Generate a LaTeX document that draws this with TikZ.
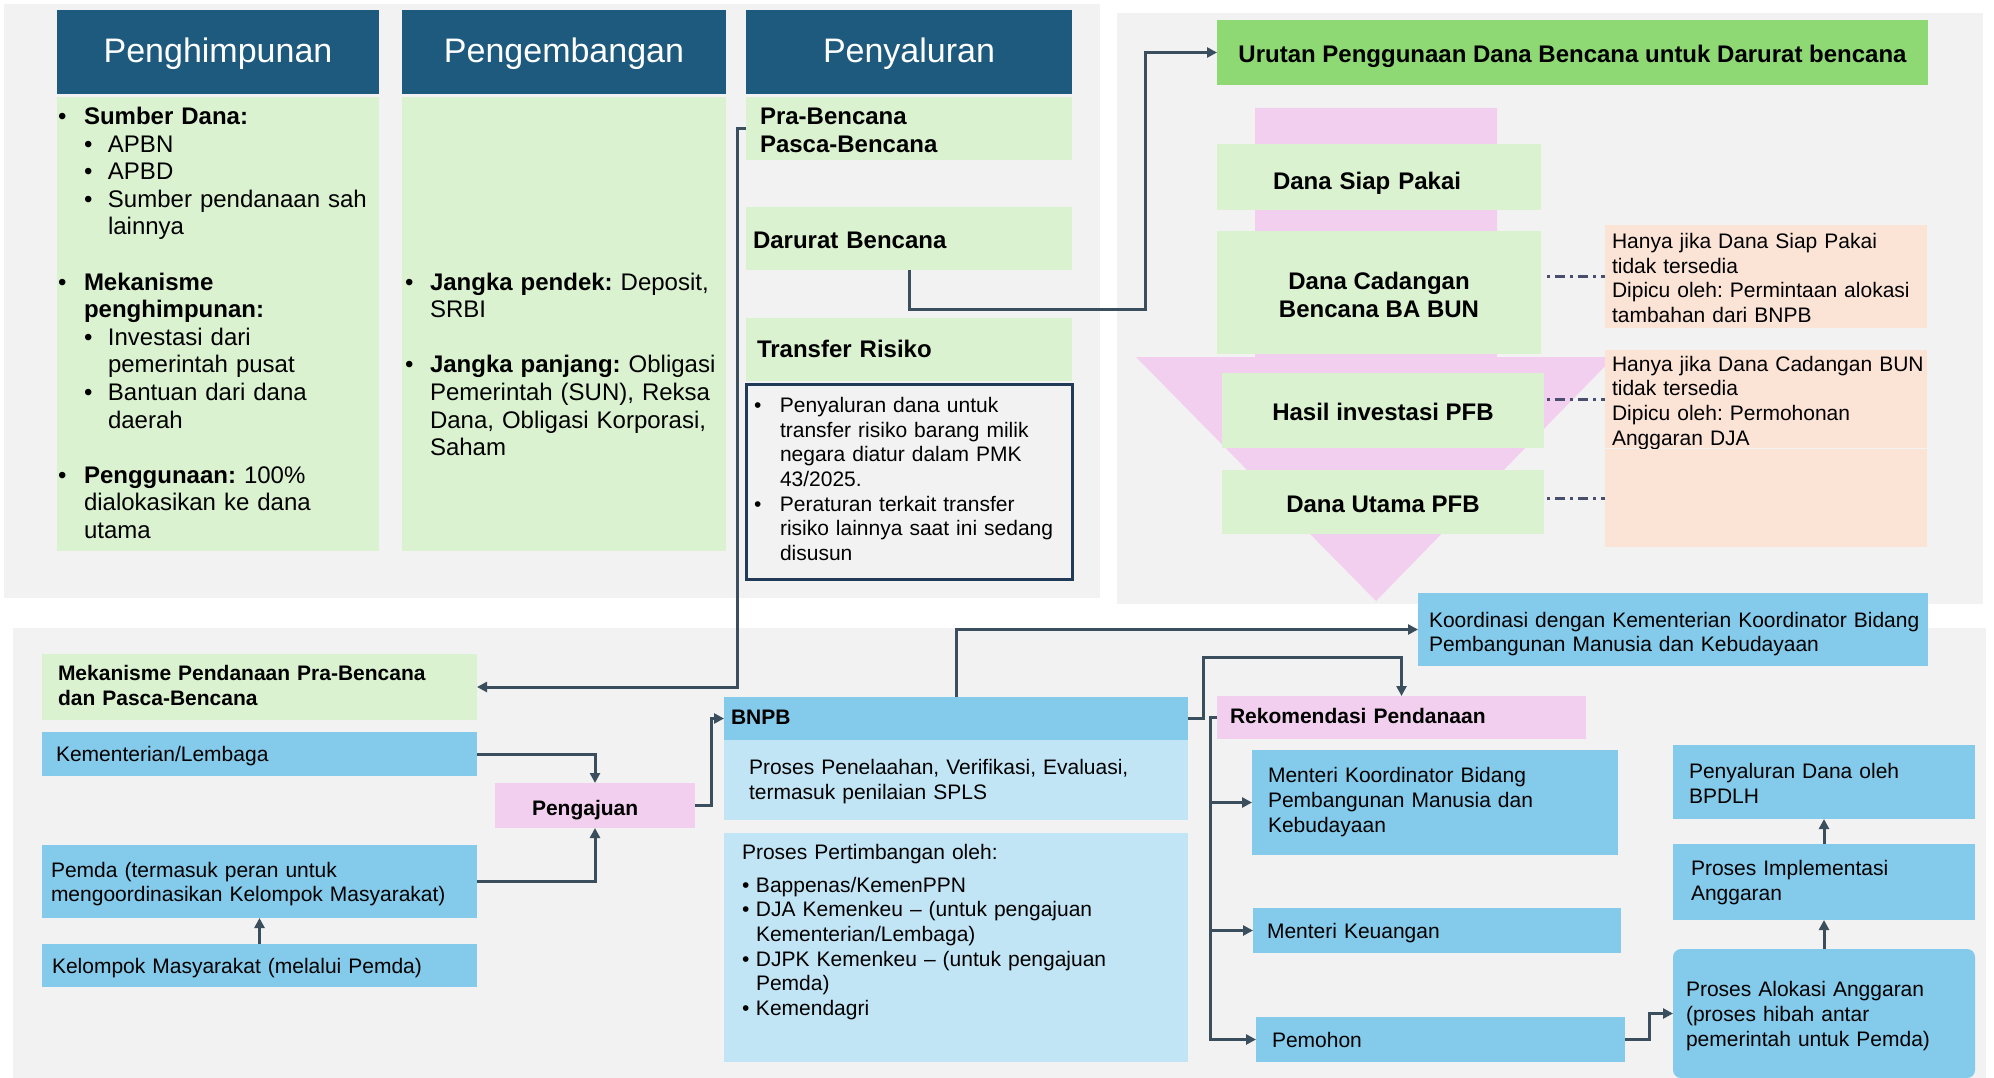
\documentclass[tikz,border=0pt]{standalone}
\usepackage{fontspec}
\setmainfont{Liberation Sans}
\usetikzlibrary{arrows.meta,calc}
\frenchspacing

\definecolor{hdrblue}{RGB}{30,90,126}
\definecolor{palegreen}{RGB}{218,242,208}
\definecolor{brightgreen}{RGB}{142,217,115}
\definecolor{pinkfill}{RGB}{242,207,238}
\definecolor{peach}{RGB}{251,227,214}
\definecolor{midblue}{RGB}{131,202,235}
\definecolor{paleblue}{RGB}{193,229,245}
\definecolor{panelgray}{RGB}{242,242,242}
\definecolor{linkgray}{RGB}{58,78,94}
\definecolor{dashgray}{RGB}{72,78,108}
\definecolor{navyline}{RGB}{32,58,88}

% lines of text, lowered a little inside their box
\newcommand{\rows}[2][5pt]{\raisebox{-#1}[\height][\depth]{\begin{tabular}{@{}l@{}}#2\end{tabular}}}
\newcommand{\crows}[2][5pt]{\raisebox{-#1}[\height][\depth]{\begin{tabular}{@{}c@{}}#2\end{tabular}}}
\newcommand{\bul}[1]{\makebox[#1][l]{\textbullet}}

\tikzset{
	cell/.style={anchor=north west, inner sep=0pt, outer sep=0pt},
	hdr/.style={cell, fill=hdrblue, text=white, font=\fontsize{34}{40}\selectfont},
	greenbox/.style={cell, fill=palegreen},
	bluebox/.style={cell, fill=midblue},
	ftop/.style={font=\fontsize{24}{27.6}\selectfont},
	ftopb/.style={font=\fontsize{24}{28}\selectfont\bfseries},
	fbot/.style={font=\fontsize{21}{24.6}\selectfont},
	fbotb/.style={font=\fontsize{21}{24.6}\selectfont\bfseries},
	arrowlink/.style={draw=linkgray, line width=3pt, -{Triangle[length=10pt,width=10pt]}},
	dashlink/.style={draw=dashgray, line width=3pt, dash pattern=on 3pt off 5pt on 10pt off 5pt}
}

\begin{document}
\begin{tikzpicture}[x=1pt, y=-1pt]
			%%%%% START %%%%%
			\useasboundingbox (0,0) rectangle (1994,1078);
			\fill[white] (0,0) rectangle (1994,1078);
			
			\fill[panelgray] (4,4) rectangle (1100,598);
			\fill[panelgray] (1117,13) rectangle (1983,604);
			\fill[panelgray] (13,628) rectangle (1986,1078);
			
			% three columns
			\node[hdr, minimum width=322pt, minimum height=84pt] (hpun) at (57,10) {\rows[3pt]{Penghimpunan}};
			\node[hdr, minimum width=324pt, minimum height=84pt] (hbang) at (402,10) {\rows[3pt]{Pengembangan}};
			\node[hdr, minimum width=326pt, minimum height=84pt] (hsalur) at (746,10) {\rows[3pt]{Penyaluran}};
			
			\node[greenbox, ftop, minimum height=454pt, text width=320pt, inner xsep=1pt, align=left] (bpun) at (57,97) {\rows[2pt]{
				\bul{26pt}\textbf{Sumber Dana:}\\
				\hspace*{26pt}\bul{24pt}APBN\\
				\hspace*{26pt}\bul{24pt}APBD\\
				\hspace*{26pt}\bul{24pt}Sumber pendanaan sah\\
				\hspace*{50pt}lainnya\\[27.6pt]
				\bul{26pt}\textbf{Mekanisme}\\
				\hspace*{26pt}\textbf{penghimpunan:}\\
				\hspace*{26pt}\bul{24pt}Investasi dari\\
				\hspace*{50pt}pemerintah pusat\\
				\hspace*{26pt}\bul{24pt}Bantuan dari dana\\
				\hspace*{50pt}daerah\\[27.6pt]
				\bul{26pt}\textbf{Penggunaan:} 100\%\\
				\hspace*{26pt}dialokasikan ke dana\\
				\hspace*{26pt}utama}};
			
			\node[greenbox, ftop, minimum height=454pt, text width=318pt, inner xsep=3pt, align=left] (bbang) at (402,97) {\rows[3pt]{
				\mbox{}\\[53pt]
				\bul{25pt}\textbf{Jangka pendek:} Deposit,\\
				\hspace*{25pt}SRBI\\[27.6pt]
				\bul{25pt}\textbf{Jangka panjang:} Obligasi\\
				\hspace*{25pt}Pemerintah (SUN), Reksa\\
				\hspace*{25pt}Dana, Obligasi Korporasi,\\
				\hspace*{25pt}Saham}};
			
			\node[greenbox, ftopb, minimum height=63pt, text width=298pt, inner xsep=14pt, align=left] (pra) at (746,97) {\rows[4pt]{Pra-Bencana\\Pasca-Bencana}};
			\node[greenbox, ftopb, minimum height=63pt, text width=312pt, inner xsep=7pt, align=left] (darurat) at (746,207) {\rows[4pt]{Darurat Bencana}};
			\node[greenbox, ftopb, minimum height=63pt, text width=304pt, inner xsep=11pt, align=left] (transfer) at (746,318) {\rows[2pt]{Transfer Risiko}};
			\node[cell, fill=panelgray, draw=navyline, line width=3pt, fbot, minimum height=195pt, text width=310pt, inner xsep=8pt, align=left] (trisk) at (746,384) {\rows[0pt]{
				\bul{26pt}Penyaluran dana untuk\\
				\hspace*{26pt}transfer risiko barang milik\\
				\hspace*{26pt}negara diatur dalam PMK\\
				\hspace*{26pt}43/2025.\\
				\bul{26pt}Peraturan terkait transfer\\
				\hspace*{26pt}risiko lainnya saat ini sedang\\
				\hspace*{26pt}disusun}};
			
			% funnel
			\node[cell, fill=brightgreen, ftopb, minimum width=711pt, minimum height=65pt] (urutan) at (1217,20) {\rows[4pt]{Urutan Penggunaan Dana Bencana untuk Darurat bencana}};
			\fill[pinkfill] (1255,108) -- (1497,108) -- (1497,357) -- (1614,357) -- (1376,601) -- (1136,357) -- (1255,357) -- cycle;
			\node[greenbox, ftopb, minimum height=66pt, text width=212pt, inner xsep=56pt, align=left] (dsp) at (1217,144) {\rows[7pt]{Dana Siap Pakai}};
			\node[greenbox, ftopb, minimum width=324pt, minimum height=123pt] (dcad) at (1217,231) {\crows[5pt]{Dana Cadangan\\Bencana BA BUN}};
			\node[greenbox, ftopb, minimum width=322pt, minimum height=75pt] (hasil) at (1222,373) {\rows[4pt]{Hasil investasi PFB}};
			\node[greenbox, ftopb, minimum width=322pt, minimum height=64pt] (dutama) at (1222,470) {\rows[5pt]{Dana Utama PFB}};
			
			\node[cell, fill=peach, fbot, minimum height=103pt, text width=308pt, inner xsep=7pt, align=left] (note1) at (1605,225) {\rows[4pt]{Hanya jika Dana Siap Pakai\\tidak tersedia\\Dipicu oleh: Permintaan alokasi\\tambahan dari BNPB}};
			\node[cell, fill=peach, fbot, minimum height=98pt, text width=308pt, inner xsep=7pt, align=left] (note2) at (1605,350) {\rows[4pt]{Hanya jika Dana Cadangan BUN\\tidak tersedia\\Dipicu oleh: Permohonan\\Anggaran DJA}};
			\node[cell, fill=peach, minimum width=322pt, minimum height=98pt] (note3) at (1605,449) {};
			
			\draw[dashlink] ($(dcad.east |- note1.west)+(6,0)$) -- (note1.west);
			\draw[dashlink] ($(hasil.east |- note2.west)+(3,0)$) -- (note2.west);
			\draw[dashlink] ($(dutama.east |- note3.west)+(3,0)$) -- (note3.west);
			
			% bottom flow
			\node[greenbox, fbotb, minimum height=66pt, text width=403pt, inner xsep=16pt, align=left] (mek) at (42,654) {\rows[1pt]{Mekanisme Pendanaan Pra-Bencana\\dan Pasca-Bencana}};
			\node[bluebox, fbot, minimum height=44pt, text width=407pt, inner xsep=14pt, align=left] (kl) at (42,732) {\rows[3pt]{Kementerian/Lembaga}};
			\node[bluebox, fbot, minimum height=73pt, text width=417pt, inner xsep=9pt, align=left] (pemda) at (42,845) {\rows[3pt]{Pemda (termasuk peran untuk\\mengoordinasikan Kelompok Masyarakat)}};
			\node[bluebox, fbot, minimum height=43pt, text width=415pt, inner xsep=10pt, align=left] (kelompok) at (42,944) {\rows[3pt]{Kelompok Masyarakat (melalui Pemda)}};
			\node[cell, fill=pinkfill, fbotb, minimum height=45pt, text width=126pt, inner xsep=37pt, align=left] (pengajuan) at (495,783) {\rows[5pt]{Pengajuan}};
			
			\node[bluebox, fbotb, minimum height=43pt, text width=450pt, inner xsep=7pt, align=left] (bnpb) at (724,697) {\rows[1pt]{BNPB}};
			\node[cell, fill=paleblue, fbot, minimum height=80pt, text width=414pt, inner xsep=25pt, align=left] (telaah) at (724,740) {\rows[2pt]{Proses Penelaahan, Verifikasi, Evaluasi,\\termasuk penilaian SPLS}};
			\node[cell, fill=paleblue, fbot, minimum height=229pt, text width=428pt, inner xsep=18pt, align=left] (pertimb) at (724,833) {\rows[4pt]{
				Proses Pertimbangan oleh:\\[8pt]
				\bul{14pt}Bappenas/KemenPPN\\
				\bul{14pt}DJA Kemenkeu -- (untuk pengajuan\\
				\hspace*{14pt}Kementerian/Lembaga)\\
				\bul{14pt}DJPK Kemenkeu -- (untuk pengajuan\\
				\hspace*{14pt}Pemda)\\
				\bul{14pt}Kemendagri\\[38pt]}};
			
			\node[bluebox, fbot, minimum height=73pt, text width=488pt, inner xsep=11pt, align=left] (koord) at (1418,593) {\rows[5pt]{Koordinasi dengan Kementerian Koordinator Bidang\\Pembangunan Manusia dan Kebudayaan}};
			\node[cell, fill=pinkfill, fbotb, minimum height=43pt, text width=343pt, inner xsep=13pt, align=left] (rekom) at (1217,696) {\rows[1pt]{Rekomendasi Pendanaan}};
			\node[bluebox, fbot, minimum height=105pt, text width=334pt, inner xsep=16pt, align=left] (menko) at (1252,750) {\rows[0pt]{Menteri Koordinator Bidang\\Pembangunan Manusia dan\\Kebudayaan}};
			\node[bluebox, fbot, minimum height=45pt, text width=340pt, inner xsep=14pt, align=left] (menkeu) at (1253,908) {\rows[3pt]{Menteri Keuangan}};
			\node[bluebox, fbot, minimum height=45pt, text width=337pt, inner xsep=16pt, align=left] (pemohon) at (1256,1017) {\rows[3pt]{Pemohon}};
			
			\node[bluebox, fbot, minimum height=74pt, text width=270pt, inner xsep=16pt, align=left] (bpdlh) at (1673,745) {\rows[4pt]{Penyaluran Dana oleh\\BPDLH}};
			\node[bluebox, fbot, minimum height=76pt, text width=266pt, inner xsep=18pt, align=left] (implem) at (1673,844) {\rows[1pt]{Proses Implementasi\\Anggaran}};
			\node[bluebox, fbot, rounded corners=8pt, minimum height=129pt, text width=276pt, inner xsep=13pt, align=left] (alokasi) at (1673,949) {\rows[3pt]{Proses Alokasi Anggaran\\(proses hibah antar\\pemerintah untuk Pemda)}};
			
			% connectors
			\draw[arrowlink] (pra.west) -- ++(-9,0) |- (mek.east);
			\draw[arrowlink] (darurat.south) -- ++(0,39) -| ($(urutan.west)+(-72,0)$) -- (urutan.west);
			
			\draw[arrowlink] (kl.east) -| (pengajuan.north);
			\draw[arrowlink] (pemda.east) -| (pengajuan.south);
			\draw[arrowlink] (kelompok.north) -- (pemda.south);
			\draw[arrowlink] (pengajuan.east) -- ++(16,0) |- (bnpb.west);
			\draw[arrowlink] (bnpb.north) |- (koord.west);
			\draw[arrowlink] (bnpb.east) -- ++(15,0) |- ($(rekom.north)+(0,-39)$) -- (rekom.north);
			
			\coordinate (trunk) at ($(rekom.west)+(-7,0)$);
			\draw[arrowlink] (rekom.west) -- (trunk) |- (pemohon.west);
			\draw[arrowlink] (trunk) |- (menko.west);
			\draw[arrowlink] (trunk) |- (menkeu.west);
			
			\draw[arrowlink] (pemohon.east) -- ++(24,0) |- (alokasi.west);
			\draw[arrowlink] (alokasi.north) -- (implem.south);
			\draw[arrowlink] (implem.north) -- (bpdlh.south);
			%%%%% END %%%%%
\end{tikzpicture}
\end{document}
